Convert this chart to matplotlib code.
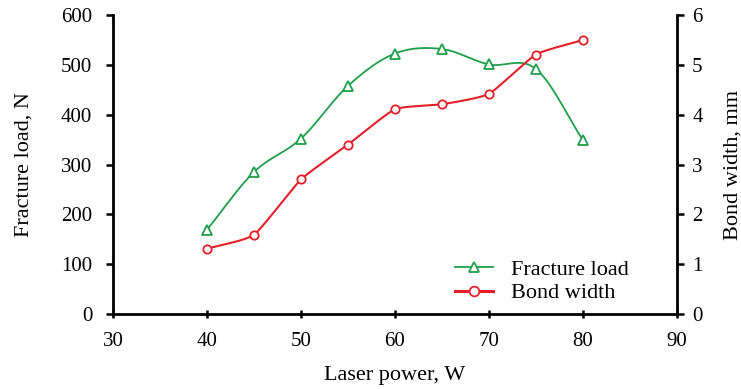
import matplotlib
matplotlib.use('Agg')
import matplotlib.pyplot as plt
import numpy as np

plt.rcParams['font.family'] = ['Liberation Serif', 'DejaVu Serif']

laser_power = [40, 45, 50, 55, 60, 65, 70, 75, 80]
fracture_load = [169, 285, 352, 458, 523, 532, 501, 492, 349]
bond_width = [1.31, 1.59, 2.70, 3.40, 4.11, 4.21, 4.42, 5.21, 5.50]
x_ticks = [30, 40, 50, 60, 70, 80, 90]
load_ticks = [0, 100, 200, 300, 400, 500, 600]
width_ticks = [0, 1, 2, 3, 4, 5, 6]


def smooth(x, y, n=20, tension=0.5):
    # Catmull-Rom style smoothing, like a spreadsheet "smoothed line"
    x = np.asarray(x, float)
    y = np.asarray(y, float)
    px = np.concatenate([[2 * x[0] - x[1]], x, [2 * x[-1] - x[-2]]])
    py = np.concatenate([[2 * y[0] - y[1]], y, [2 * y[-1] - y[-2]]])
    xs, ys = [], []
    t = np.linspace(0, 1, n, endpoint=False)
    for i in range(1, len(px) - 2):
        p0, p1, p2, p3 = (np.array([px[j], py[j]]) for j in range(i - 1, i + 3))
        m1 = tension * (p2 - p0)
        m2 = tension * (p3 - p1)
        h00 = 2 * t**3 - 3 * t**2 + 1
        h10 = t**3 - 2 * t**2 + t
        h01 = -2 * t**3 + 3 * t**2
        h11 = t**3 - t**2
        pts = (np.outer(h00, p1) + np.outer(h10, m1) + np.outer(h01, p2) + np.outer(h11, m2))
        xs.extend(pts[:, 0])
        ys.extend(pts[:, 1])
    xs.append(x[-1])
    ys.append(y[-1])
    return np.array(xs), np.array(ys)


fig = plt.figure(figsize=(7.41, 3.89), dpi=100)
ax = fig.add_axes([0.1525, 0.193, 0.761, 0.768])
ax2 = ax.twinx()

green = '#1f9e4c'
red = '#e3202a'

sx, sy = smooth(laser_power, fracture_load)
ax.plot(sx, sy, color=green, lw=1.3)
ax.plot(laser_power, fracture_load, ls='none', marker='^', ms=7.5, mfc='white', mec=green, mew=1.3)

bx, by = smooth(laser_power, bond_width, tension=0.25)
ax2.plot(bx, by, color=red, lw=1.5)
ax2.plot(laser_power, bond_width, ls='none', marker='o', ms=6, mfc='white', mec=red, mew=1.3)

ax.set_xlim(30, 90)
ax.set_ylim(0, 600)
ax2.set_ylim(0, 6)
ax.set_xticks(x_ticks)
ax.set_yticks(load_ticks)
ax2.set_yticks(width_ticks)

for a in (ax, ax2):
    for s in a.spines.values():
        s.set_visible(False)
        s.set_linewidth(2)
ax.spines['left'].set_visible(True)
ax.spines['bottom'].set_visible(True)
ax2.spines['right'].set_visible(True)

ax.tick_params(axis='x', direction='inout', length=6, width=1.8, labelsize=15, pad=10)
ax.tick_params(axis='y', direction='out', length=5, width=1.8, labelsize=15, pad=10)
ax2.tick_params(axis='y', direction='out', length=5, width=1.8, labelsize=15, pad=6)

ax.set_xlabel('Laser power, W', fontsize=16, labelpad=11)
ax.set_ylabel('Fracture load, N', fontsize=16, labelpad=20)
ax2.set_ylabel('Bond width, mm', fontsize=16, rotation=90, labelpad=15)

h1 = plt.Line2D([], [], color=green, lw=1.3, marker='^', ms=7.5, mfc='white', mec=green, mew=1.3)
h2 = plt.Line2D([], [], color=red, lw=2.2, marker='o', ms=7, mfc='white', mec=red, mew=1.3)
ax2.legend([h1, h2], ['Fracture load', 'Bond width'], loc='center left',
           bbox_to_anchor=(0.614, 0.277), bbox_transform=fig.transFigure,
           frameon=False, fontsize=16, borderpad=0, borderaxespad=0,
           handlelength=1.7, handletextpad=0.8, labelspacing=0.15)

fig.savefig('out.png', dpi=100)
